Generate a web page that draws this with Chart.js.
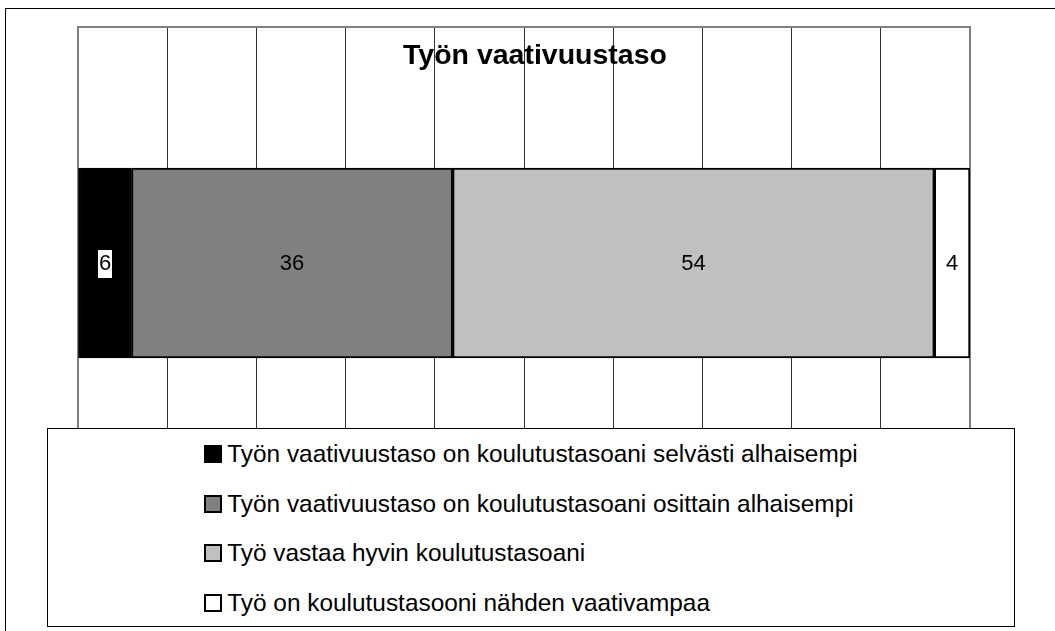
<!DOCTYPE html>
<html lang="fi">
<head>
  <meta charset="UTF-8" />
  <title>Työn vaativuustaso</title>
  <script src="https://cdn.jsdelivr.net/npm/chart.js"></script>
  <style>
    body {
      margin: 0;
      background: #fff;
      font-family: "Liberation Sans", Arial, sans-serif;
      overflow: hidden;
    }
    .wrap {
      position: relative;
      width: 1055px;
      height: 631px;
    }
    .outer {
      position: absolute;
      left: 5px;
      top: 8px;
      width: 1100px;
      height: 700px;
      border: 1px solid #000;
    }
    canvas {
      position: absolute;
      left: 0;
      top: 0;
    }
    .title {
      position: absolute;
      left: 235px;
      width: 600px;
      top: 40px;
      text-align: center;
      font-weight: bold;
      font-size: 28.5px;
      line-height: 28.5px;
      color: #000;
    }
    .legend {
      position: absolute;
      left: 47px;
      top: 428px;
      width: 966px;
      height: 197px;
      border: 1px solid #000;
      background: #fff;
      display: flex;
      justify-content: center;
    }
    .legend ul {
      list-style: none;
      margin: 0;
      padding: 0;
    }
    .legend li {
      display: flex;
      align-items: center;
      height: 49.7px;
      font-size: 24.4px;
      color: #000;
    }
    .legend .box {
      width: 14px;
      height: 14px;
      border: 2px solid #000;
      margin-right: 5px;
      flex: none;
    }
  </style>
</head>
<body>
  <div class="wrap">
    <div class="outer"></div>
    <canvas id="chart" width="1055" height="631"></canvas>
    <div class="title">Työn vaativuustaso</div>
    <div class="legend"><ul id="legendList"></ul></div>
  </div>

  <script>
    // chart data
    const categories = ['Työn vaativuustaso'];
    const seriesNames = [
      'Työn vaativuustaso on koulutustasoani selvästi alhaisempi',
      'Työn vaativuustaso on koulutustasoani osittain alhaisempi',
      'Työ vastaa hyvin koulutustasoani',
      'Työ on koulutustasooni nähden vaativampaa'
    ];
    const seriesValues = [6, 36, 54, 4];
    const axisMin = 0;
    const axisMax = 100;
    const axisStep = 10;

    const fillColors = ['#000000', '#808080', '#c0c0c0', '#ffffff'];

    // gray frame around the plot area
    const plotFrame = {
      id: 'plotFrame',
      beforeDatasetsDraw(chart) {
        const { ctx, chartArea } = chart;
        ctx.save();
        ctx.strokeStyle = '#808080';
        ctx.lineWidth = 2;
        ctx.strokeRect(chartArea.left, chartArea.top,
          chartArea.right - chartArea.left, chartArea.bottom - chartArea.top);
        ctx.restore();
      }
    };

    // value labels in the middle of each segment
    const segmentLabels = {
      id: 'segmentLabels',
      afterDatasetsDraw(chart) {
        const ctx = chart.ctx;
        ctx.save();
        ctx.font = '22px "Liberation Sans", Arial, sans-serif';
        ctx.textAlign = 'center';
        ctx.textBaseline = 'middle';
        chart.data.datasets.forEach((ds, i) => {
          const bar = chart.getDatasetMeta(i).data[0];
          const cx = (bar.x + bar.base) / 2;
          const cy = bar.y;
          const txt = String(ds.data[0]);
          if (ds.backgroundColor === '#000000') {
            const w = ctx.measureText(txt).width;
            ctx.fillStyle = '#fff';
            ctx.fillRect(Math.round(cx - w / 2 - 1), Math.round(cy - 13), Math.round(w + 2), 28);
          }
          ctx.fillStyle = '#000';
          ctx.fillText(txt, cx, cy + 1);
        });
        ctx.restore();
      }
    };

    const datasets = seriesNames.map((name, i) => ({
      label: name,
      data: [seriesValues[i]],
      backgroundColor: fillColors[i],
      borderColor: '#000',
      borderWidth: 2,
      borderSkipped: false,
      barThickness: 190
    }));

    new Chart(document.getElementById('chart'), {
      type: 'bar',
      data: { labels: categories, datasets: datasets },
      options: {
        indexAxis: 'y',
        responsive: false,
        animation: false,
        events: [],
        layout: { padding: { left: 78, top: 27, right: 85, bottom: 132 } },
        plugins: {
          legend: { display: false },
          title: { display: false },
          tooltip: { enabled: false }
        },
        scales: {
          x: {
            stacked: true,
            min: axisMin,
            max: axisMax,
            ticks: { display: false, stepSize: axisStep },
            border: { display: false },
            grid: { color: '#333333', lineWidth: 1, drawTicks: false },
            afterFit(scale) { scale.height = 0; }
          },
          y: {
            stacked: true,
            display: false,
            afterFit(scale) { scale.width = 0; }
          }
        }
      },
      plugins: [plotFrame, segmentLabels]
    });

    // legend built from the same arrays
    const list = document.getElementById('legendList');
    seriesNames.forEach((name, i) => {
      const li = document.createElement('li');
      const box = document.createElement('span');
      box.className = 'box';
      box.style.background = fillColors[i];
      li.appendChild(box);
      li.appendChild(document.createTextNode(name));
      list.appendChild(li);
    });
  </script>
</body>
</html>
